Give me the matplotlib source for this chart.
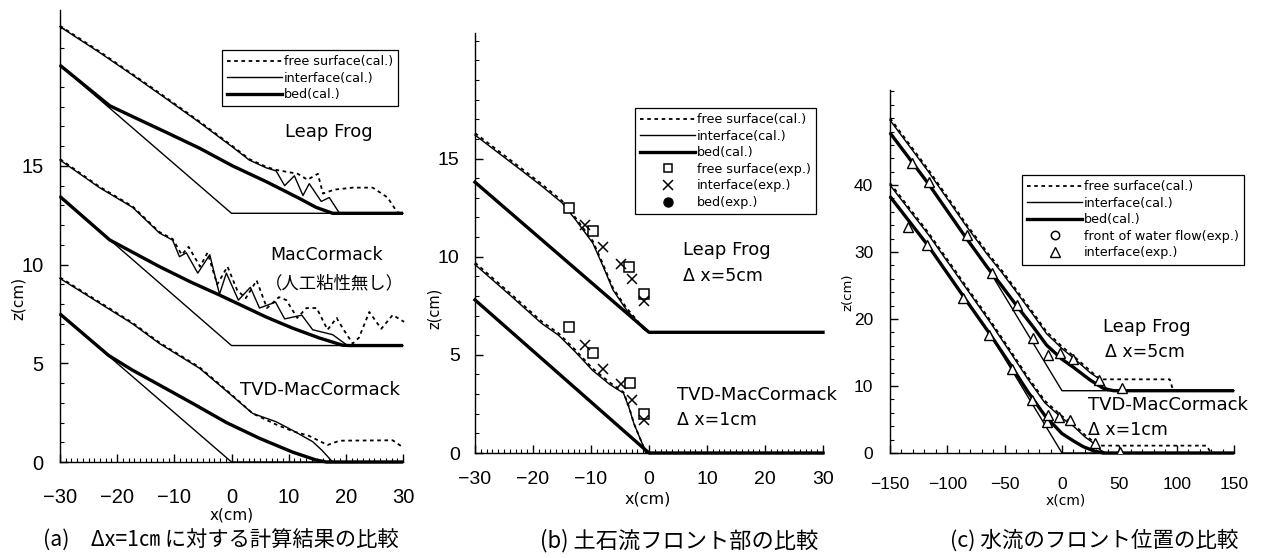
import matplotlib
matplotlib.use('Agg')
import matplotlib.pyplot as plt
from matplotlib.lines import Line2D
from matplotlib.ticker import MultipleLocator

# ---------------- data : panel (a)  dx = 1 cm ----------------
A_LF_FIXED_X = [-30, 0, 30]
A_LF_FIXED_Z = [20.1, 12.6, 12.6]
A_LF_BED_X = [-30, -21.3, -17.3, -11.4, -5.6, 0.2, 6.1, 11.9, 14.8, 17.7, 30]
A_LF_BED_Z = [20.1, 18.05, 17.5, 16.7, 15.9, 15.0, 14.2, 13.35, 12.9, 12.6, 12.6]
A_LF_IF_X = [-30, -23.1, -17.3, -11.4, -5.6, 0.2, 3.1, 6.1, 7.8, 9.3, 11.0, 12.5, 13.6, 15.7, 17.1, 18.9]
A_LF_IF_Z = [22.05, 20.75, 19.6, 18.4, 17.2, 15.95, 15.3, 14.9, 14.75, 14.0, 14.5, 13.5, 14.1, 13.2, 13.4, 12.6]
A_LF_FS_X = [-30, -23.1, -17.3, -11.4, -5.6, 0.2, 3.1, 6.1, 7.8, 11.6, 13.3, 15.1, 16.0, 18.0, 21.2, 24.7, 27.3, 29.0, 30.0]
A_LF_FS_Z = [22.1, 20.8, 19.65, 18.45, 17.25, 16.0, 15.35, 14.95, 14.8, 14.6, 14.3, 14.6, 13.6, 13.8, 13.9, 13.9, 13.4, 12.65, 12.6]

A_MC_FIXED_X = [-30, 0, 30]
A_MC_FIXED_Z = [13.45, 5.9, 5.9]
A_MC_BED_X = [-30, -21.3, -12.6, -7.0, -2.1, 2.0, 6.1, 10.7, 15.4, 19.4, 20.5, 30]
A_MC_BED_Z = [13.45, 11.25, 9.9, 9.1, 8.46, 7.9, 7.34, 6.78, 6.28, 5.92, 5.9, 5.9]
A_MC_IF_X = [-30, -23.1, -17.3, -12.6, -10.3, -9.1, -7.9, -5.9, -3.8, -2.1, -0.9, 1.2, 3.3, 4.9, 7.7, 9.3, 12.3, 14.2, 17.7, 20.3]
A_MC_IF_Z = [15.3, 13.9, 12.9, 11.6, 11.24, 10.4, 10.6, 9.57, 10.5, 8.5, 9.57, 8.2, 8.85, 7.8, 8.1, 7.25, 7.44, 6.7, 6.45, 5.9]
A_MC_FS_X = [-30, -23.1, -17.3, -12.6, -10.3, -8.7, -7.5, -5.5, -4.2, -2.5, -0.7, 1.0, 2.5, 4.4, 6.2, 8.3, 9.6, 11.5, 13.1,
             14.9, 16.8, 18.4, 19.4, 21.2, 22.3, 24.1, 26.2, 28.2, 30.2]
A_MC_FS_Z = [15.35, 13.95, 12.95, 11.65, 11.3, 10.5, 10.9, 9.9, 10.6, 9.0, 9.9, 8.7, 8.3, 9.2, 7.8, 8.35, 8.2, 7.3, 7.8,
             7.8, 6.7, 7.3, 6.8, 6.0, 6.3, 7.6, 6.75, 7.45, 7.1]

A_TVD_FIXED_X = [-30, 0, 30]
A_TVD_FIXED_Z = [7.5, 0, 0]
A_TVD_BED_X = [-30, -21.5, -17.3, -12.6, -6.8, -0.9, 4.9, 10.7, 14.8, 16.6, 30]
A_TVD_BED_Z = [7.5, 5.4, 4.65, 3.9, 2.97, 2.0, 1.2, 0.5, 0.1, 0.0, 0.0]
A_TVD_IF_X = [-30, -17.3, -12.6, -5.6, -0.9, 3.7, 7.8, 10.7, 14.2, 15.8, 17.7]
A_TVD_IF_Z = [9.3, 7.0, 6.0, 4.75, 3.6, 2.46, 2.04, 1.6, 1.03, 0.6, 0.0]
A_TVD_FS_X = [-30, -17.3, -12.6, -5.6, -0.9, 3.7, 7.8, 10.7, 13.6, 16.8, 18.9, 28.2, 30.0]
A_TVD_FS_Z = [9.35, 7.05, 6.05, 4.8, 3.65, 2.46, 1.9, 1.56, 1.32, 0.86, 1.08, 1.1, 0.74]

# ---------------- data : panel (b) ----------------
B_LF_BED_X = [-30, 0, 30]
B_LF_BED_Z = [13.8, 6.15, 6.15]
B_LF_IF_X = [-30, -22, -18.5, -15, -12.7, -9.7, -7.9, -6.2, -3.9, -0.9, 0]
B_LF_IF_Z = [16.2, 14.4, 13.6, 12.75, 11.9, 10.7, 9.5, 8.3, 7.3, 6.3, 6.15]
B_LF_FS_Z = [16.3, 14.5, 13.7, 12.85, 12.0, 10.8, 9.6, 8.4, 7.4, 6.35, 6.15]
B_LF_SQ_X = [-13.8, -9.7, -3.5, -0.9]
B_LF_SQ_Z = [12.5, 11.3, 9.5, 8.1]
B_LF_X_X = [-11.1, -8.0, -4.8, -3.0, -0.9]
B_LF_X_Z = [11.6, 10.5, 9.65, 8.85, 7.75]

B_TVD_BED_X = [-30, 0, 30]
B_TVD_BED_Z = [7.8, 0, 0]
B_TVD_IF_X = [-30, -23.8, -18.5, -15.6, -12.7, -9.7, -6.8, -4.4, -3.5, -2.6, -0.5]
B_TVD_IF_Z = [9.6, 8.0, 6.6, 6.0, 5.15, 4.2, 3.5, 3.05, 2.35, 1.5, 0.0]
B_TVD_FS_Z = [9.7, 8.1, 6.7, 6.1, 5.25, 4.3, 3.6, 3.1, 2.4, 1.5, 0.0]
B_TVD_SQ_X = [-13.8, -9.7, -3.2, -0.9]
B_TVD_SQ_Z = [6.4, 5.1, 3.55, 2.0]
B_TVD_X_X = [-11.1, -7.9, -4.9, -3.0, -0.9]
B_TVD_X_Z = [5.5, 4.3, 3.5, 2.7, 1.7]

# ---------------- data : panel (c) ----------------
C_LF_FIXED_X = [-150, -116.5, -84.4, -62.6, -51.3, 0, 150]
C_LF_FIXED_Z = [47.8, 40.2, 32.3, 27.0, 23.8, 9.3, 9.3]
C_LF_BED_X = [-150, -116.5, -84.4, -65, -52.7, -39.6, -25, -13.4, 0, 9.9, 24.5, 36.1, 45, 150]
C_LF_BED_Z = [47.8, 40.2, 32.3, 27.7, 25.0, 22.0, 18.8, 16.1, 14.0, 12.8, 10.9, 9.65, 9.3, 9.3]
C_LF_IF_X = [-150, -116.5, -84.4, -65, -52.7, -39.6, -25, -13.4, 0, 9.9, 24.5, 33, 36, 40]
C_LF_IF_Z = [49.7, 42.0, 34.1, 29.6, 27.0, 24.0, 20.6, 17.8, 15.6, 14.2, 12.0, 11.0, 10.3, 9.3]
C_LF_FS_X = [-150, -116.5, -84.4, -65, -52.7, -39.6, -25, -13.4, 0, 9.9, 24.5, 33, 94, 97]
C_LF_FS_Z = [50.0, 42.3, 34.4, 29.9, 27.3, 24.3, 20.9, 18.1, 15.9, 14.5, 12.3, 11.0, 11.0, 9.3]
C_LF_TRI_X = [-131, -116, -83, -61, -39, -25, -12, -1.7, 9.9, 32, 52.6]
C_LF_TRI_Z = [43.3, 40.4, 32.5, 26.9, 22.1, 17.1, 14.6, 15.0, 14.1, 10.9, 9.7]

C_TVD_FIXED_X = [-150, -116.5, -84.4, -62.6, -51.3, 0, 150]
C_TVD_FIXED_Z = [38.3, 30.9, 23.0, 17.7, 14.5, 0, 0]
C_TVD_BED_X = [-150, -116.5, -84.4, -62.6, -45, -30, -15, 0, 10, 18.6, 28, 36, 150]
C_TVD_BED_Z = [38.3, 30.9, 23.0, 17.7, 13.2, 9.2, 5.6, 2.9, 1.8, 0.94, 0.3, 0.0, 0.0]
C_TVD_IF_X = [-150, -116.5, -84.4, -62.6, -45, -30, -15, 0, 10, 20, 28, 33, 38]
C_TVD_IF_Z = [40.0, 32.6, 24.8, 19.5, 15.0, 11.1, 7.5, 5.2, 4.0, 2.4, 1.4, 0.5, 0.0]
C_TVD_FS_X = [-150, -116.5, -84.4, -62.6, -45, -30, -15, 0, 10, 20, 28, 35, 126, 130]
C_TVD_FS_Z = [40.3, 32.9, 25.1, 19.8, 15.3, 11.4, 7.8, 5.5, 4.3, 2.7, 1.6, 1.1, 1.1, 0.0]
C_TVD_TRI_X = [-134, -118, -86, -64, -44, -26.5, -13.4, -12, -2.3, 7, 28.8, 50.7]
C_TVD_TRI_Z = [33.7, 31.0, 23.1, 17.6, 12.6, 7.9, 4.7, 5.7, 5.4, 4.9, 1.45, 0.2]

LEGEND_CAL = ['free surface(cal.)', 'interface(cal.)', 'bed(cal.)']
LEGEND_B_EXP = ['free surface(exp.)', 'interface(exp.)', 'bed(exp.)']
LEGEND_C_EXP = ['front of water flow(exp.)', 'interface(exp.)']

# ---------------- figure ----------------
plt.rcParams['font.family'] = ['DejaVu Sans', 'Noto Sans CJK JP']
W, H = 1263, 558
fig = plt.figure(figsize=(W / 100, H / 100), dpi=100)


def box(l, r, b, t):
    return [l / W, 1 - b / H, (r - l) / W, (b - t) / H]


axA = fig.add_axes(box(60, 403, 462, 10))
axB = fig.add_axes(box(475, 823, 453, 33))
axC = fig.add_axes(box(890, 1234, 453, 90))

THIN = 1.0
THICK = 2.4
DOT = (0, (2.0, 2.0))
FSW = 1.3


def style(ax, xlim, ylim, xt, yt, xminor, yminor, fs, xpad, ypad):
    ax.set_xlim(*xlim)
    ax.set_ylim(*ylim)
    ax.spines['top'].set_visible(False)
    ax.spines['right'].set_visible(False)
    for s in ('left', 'bottom'):
        ax.spines[s].set_linewidth(1.0)
    ax.set_xticks(xt)
    ax.set_yticks(yt)
    ax.xaxis.set_minor_locator(MultipleLocator(xminor))
    ax.yaxis.set_minor_locator(MultipleLocator(yminor))
    ax.tick_params(which='both', direction='in', labelfontfamily='Liberation Sans')
    ax.tick_params(which='major', length=6, width=1.0)
    ax.tick_params(which='minor', length=3, width=0.8)
    ax.tick_params(axis='x', pad=xpad, labelsize=fs)
    ax.tick_params(axis='y', pad=ypad, labelsize=fs)
    ax.patch.set_alpha(0)


def group(ax, fx, fz, bx, bz, ix, iz, sx, sz):
    ax.plot(fx, fz, color='black', lw=THIN, clip_on=False)
    ax.plot(bx, bz, color='black', lw=THICK, clip_on=False, solid_capstyle='butt')
    ax.plot(ix, iz, color='black', lw=THIN, clip_on=False)
    ax.plot(sx, sz, color='black', lw=FSW, ls=DOT, clip_on=False)


# panel (a)
style(axA, (-30, 30), (0, 22.9), [-30, -20, -10, 0, 10, 20, 30], [0, 5, 10, 15], 1, 1, 14.5, 19, 12)
group(axA, A_LF_FIXED_X, A_LF_FIXED_Z, A_LF_BED_X, A_LF_BED_Z, A_LF_IF_X, A_LF_IF_Z, A_LF_FS_X, A_LF_FS_Z)
group(axA, A_MC_FIXED_X, A_MC_FIXED_Z, A_MC_BED_X, A_MC_BED_Z, A_MC_IF_X, A_MC_IF_Z, A_MC_FS_X, A_MC_FS_Z)
group(axA, A_TVD_FIXED_X, A_TVD_FIXED_Z, A_TVD_BED_X, A_TVD_BED_Z, A_TVD_IF_X, A_TVD_IF_Z, A_TVD_FS_X, A_TVD_FS_Z)
axA.text(17.1, 16.7, 'Leap Frog', fontsize=13, ha='center', va='center')
axA.text(16.6, 10.5, 'MacCormack', fontsize=12.5, ha='center', va='center')
axA.text(18.0, 9.06, '（人工粘性無し）', fontsize=12.5, ha='center', va='center',
         family=['Noto Sans CJK JP', 'DejaVu Sans'])
axA.text(1.4, 3.65, 'TVD-MacCormack', fontsize=13, ha='left', va='center', clip_on=False)

# panel (b)
style(axB, (-30, 30), (0, 21.4), [-30, -20, -10, 0, 10, 20, 30], [0, 5, 10, 15], 1, 1, 14, 13, 11)
axB.plot(B_LF_BED_X, B_LF_BED_Z, color='black', lw=THICK, clip_on=False)
axB.plot(B_LF_IF_X, B_LF_IF_Z, color='black', lw=THIN, clip_on=False)
axB.plot(B_LF_IF_X, B_LF_FS_Z, color='black', lw=FSW, ls=DOT, clip_on=False)
axB.plot(B_TVD_BED_X, B_TVD_BED_Z, color='black', lw=THICK, clip_on=False)
axB.plot(B_TVD_IF_X, B_TVD_IF_Z, color='black', lw=THIN, clip_on=False)
axB.plot(B_TVD_IF_X, B_TVD_FS_Z, color='black', lw=FSW, ls=DOT, clip_on=False)
for sx, sz in ((B_LF_SQ_X, B_LF_SQ_Z), (B_TVD_SQ_X, B_TVD_SQ_Z)):
    axB.plot(sx, sz, ls='none', marker='s', ms=6.5, mfc='white', mec='black', mew=1.1)
for cx, cz in ((B_LF_X_X, B_LF_X_Z), (B_TVD_X_X, B_TVD_X_Z)):
    axB.plot(cx, cz, ls='none', marker='x', ms=7.5, mec='black', mew=1.1)
axB.text(5.8, 10.35, 'Leap Frog', fontsize=13, ha='left', va='center')
axB.text(5.8, 9.0, 'Δ x=5cm', fontsize=12.5, ha='left', va='center')
axB.text(4.8, 2.96, 'TVD-MacCormack', fontsize=13, ha='left', va='center', clip_on=False)
axB.text(4.8, 1.68, 'Δ x=1cm', fontsize=12.5, ha='left', va='center')

# panel (c)
style(axC, (-150, 150), (0, 54.2), [-150, -100, -50, 0, 50, 100, 150], [0, 10, 20, 30, 40], 10, 2, 12.5, 17, 12)
group(axC, C_LF_FIXED_X, C_LF_FIXED_Z, C_LF_BED_X, C_LF_BED_Z, C_LF_IF_X, C_LF_IF_Z, C_LF_FS_X, C_LF_FS_Z)
group(axC, C_TVD_FIXED_X, C_TVD_FIXED_Z, C_TVD_BED_X, C_TVD_BED_Z, C_TVD_IF_X, C_TVD_IF_Z, C_TVD_FS_X, C_TVD_FS_Z)
for tx, tz in ((C_LF_TRI_X, C_LF_TRI_Z), (C_TVD_TRI_X, C_TVD_TRI_Z)):
    axC.plot(tx, tz, ls='none', marker='^', ms=7, mfc='white', mec='black', mew=1.0, zorder=5)
axC.text(35.8, 18.8, 'Leap Frog', fontsize=13, ha='left', va='center')
axC.text(37.6, 15.1, 'Δ x=5cm', fontsize=12.5, ha='left', va='center')
axC.text(22.7, 7.2, 'TVD-MacCormack', fontsize=13, ha='left', va='center', clip_on=False)
axC.text(22.7, 3.4, 'Δ x=1cm', fontsize=12.5, ha='left', va='center')

# axis labels (the "x(cm)" label sits just under the "0" tick label, as in the original)
fig.text(232 / W, 1 - 515 / H, 'x(cm)', fontsize=11, ha='center', va='center')
fig.text(648 / W, 1 - 499 / H, 'x(cm)', fontsize=11.5, ha='center', va='center')
fig.text(1066 / W, 1 - 500 / H, 'x(cm)', fontsize=10, ha='center', va='center')
fig.text(18 / W, 1 - 298 / H, 'z(cm)', fontsize=11, rotation=90, ha='center', va='center')
fig.text(434 / W, 1 - 308 / H, 'z(cm)', fontsize=10.5, rotation=90, ha='center', va='center')
fig.text(848 / W, 1 - 292 / H, 'z(cm)', fontsize=9.5, rotation=90, ha='center', va='center')

# captions
capfam = ['Noto Sans CJK JP', 'DejaVu Sans']
fig.text(43 / W, 1 - 541 / H, '(a)　Δx=1㎝ に対する計算結果の比較', fontsize=15.3, ha='left', va='center', family=capfam)
fig.text(540 / W, 1 - 541 / H, '(b) 土石流フロント部の比較', fontsize=16, ha='left', va='center', family=capfam)
fig.text(950 / W, 1 - 541 / H, '(c) 水流のフロント位置の比較', fontsize=15.5, ha='left', va='center', family=capfam)


# legends
def cal_handles():
    return [Line2D([], [], color='black', lw=FSW, ls=DOT),
            Line2D([], [], color='black', lw=THIN),
            Line2D([], [], color='black', lw=THICK)]


def make_legend(ax, handles, labels, l, t):
    leg = ax.legend(handles, labels, loc='upper left', bbox_to_anchor=(l / W, 1 - t / H),
                    bbox_transform=fig.transFigure, fontsize=9.2, handlelength=4.3,
                    handletextpad=0.15, labelspacing=0.28, borderpad=0.4, borderaxespad=0,
                    fancybox=False, framealpha=1, edgecolor='black')
    leg.get_frame().set_linewidth(0.9)
    return leg


make_legend(axA, cal_handles(), LEGEND_CAL, 222, 50)
hb = cal_handles() + [
    Line2D([], [], ls='none', marker='s', ms=6, mfc='white', mec='black', mew=1.1),
    Line2D([], [], ls='none', marker='x', ms=7, mec='black', mew=1.1),
    Line2D([], [], ls='none', marker='o', ms=6.5, mfc='black', mec='black')]
make_legend(axB, hb, LEGEND_CAL + LEGEND_B_EXP, 635, 108)
hc = cal_handles() + [
    Line2D([], [], ls='none', marker='o', ms=6, mfc='white', mec='black', mew=1.1),
    Line2D([], [], ls='none', marker='^', ms=6.5, mfc='white', mec='black', mew=1.0)]
make_legend(axC, hc, LEGEND_CAL + LEGEND_C_EXP, 1022, 175)

fig.savefig('out.png', dpi=100)
